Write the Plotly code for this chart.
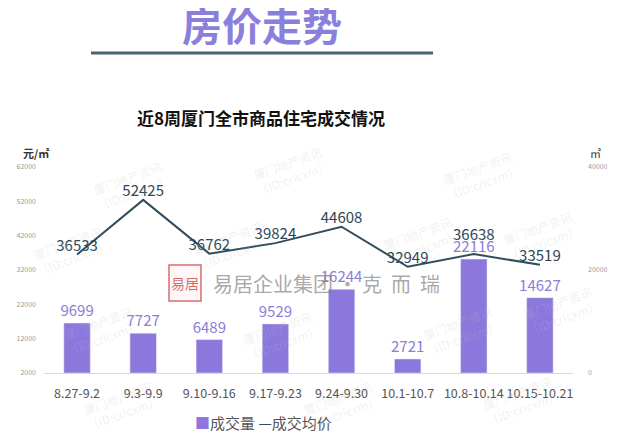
import plotly.graph_objects as go

categories = ["8.27-9.2", "9.3-9.9", "9.10-9.16", "9.17-9.23", "9.24-9.30", "10.1-10.7", "10.8-10.14", "10.15-10.21"]
volume = [9699, 7727, 6489, 9529, 16244, 2721, 22116, 14627]
avg_price = [36533, 52425, 36762, 39824, 44608, 32949, 36638, 33519]
left_ticks = [2000, 12000, 22000, 32000, 42000, 52000, 62000]
right_ticks = [0, 20000, 40000]

FONT = "Noto Sans CJK SC, Noto Sans, sans-serif"
BAR_COLOR = "#8C78DC"
LINE_COLOR = "#2F4D5C"
BAR_TEXT = "#8A7ED6"
LINE_TEXT = "#2D4654"

# page has an 8px body margin; plot area in screen pixels: x 44..573, y 167..373
OFF = 8
W, H = 625, 439
L, T = 44 - OFF, 167 - OFF
R = W - (573 - OFF)
B = H - (373 - OFF)
PW = W - L - R
PH = H - T - B


def px_x(x):
    return (x - OFF - L) / PW


def px_y(y):
    return (H - B - (y - OFF)) / PH


# line labels: the 7th one is raised a bit more (as in the reference) to clear the bar label
line_text = [str(v) for v in avg_price]
line_text[6] = ""

fig = go.Figure()

fig.add_trace(go.Bar(
    x=categories, y=volume, name="成交量", yaxis="y2",
    marker=dict(color=BAR_COLOR), width=0.4,
    text=[str(v) for v in volume], textposition="outside",
    textfont=dict(color=BAR_TEXT, size=15, family=FONT),
    constraintext="none", cliponaxis=False,
))

fig.add_trace(go.Scatter(
    x=categories, y=avg_price, name="成交均价", yaxis="y",
    mode="lines+text", line=dict(color=LINE_COLOR, width=2),
    text=line_text, textposition="top center",
    textfont=dict(color=LINE_TEXT, size=15, family=FONT),
    cliponaxis=False,
))

fig.update_layout(
    width=W, height=H,
    margin=dict(l=L, r=R, t=T, b=B, autoexpand=False),
    paper_bgcolor="white", plot_bgcolor="white",
    font=dict(family=FONT, color="#555"),
    showlegend=False,
    xaxis=dict(showgrid=False, showline=True, linecolor="#d9d9d9", linewidth=1,
               tickfont=dict(size=12.5, color="#555", family=FONT), ticks="", zeroline=False,
               tickangle=0, automargin=False, ticklabelstandoff=9),
    yaxis=dict(range=[2000, 62000], tickvals=left_ticks, ticktext=[str(v) for v in left_ticks],
               showgrid=False, zeroline=False, automargin=False,
               tickfont=dict(size=7, color="#999"), ticklabelstandoff=7),
    yaxis2=dict(range=[0, 40000], tickvals=right_ticks, ticktext=[str(v) for v in right_ticks],
                overlaying="y", side="right", automargin=False,
                showgrid=False, zeroline=False, tickfont=dict(size=7, color="#999"),
                ticklabelstandoff=14),
)

anns = [
    dict(text="<b>房价走势</b>", x=px_x(262), y=px_y(24), font=dict(size=40, color="#8B7FDC", family=FONT)),
    dict(text="<b>近8周厦门全市商品住宅成交情况</b>", x=px_x(261), y=px_y(117), font=dict(size=17, color="#111", family=FONT)),
    dict(text="<b>元/㎡</b>", x=px_x(36), y=px_y(153), font=dict(size=11, color="#333", family=FONT)),
    dict(text="㎡", x=px_x(595), y=px_y(153), font=dict(size=11, color="#333", family=FONT)),
    dict(text="易居企业集团 · 克  而  瑞", x=px_x(326), y=px_y(283), font=dict(size=20, color="rgba(130,130,130,0.7)", family=FONT)),
    dict(text="易居", x=px_x(185), y=px_y(283), font=dict(size=14, color="rgba(200,60,60,0.75)", family=FONT)),
    dict(text=f"<span style='color:{BAR_COLOR}'>■</span>成交量 <span style='color:{LINE_COLOR}'>—</span>成交均价",
         x=px_x(263), y=px_y(422), font=dict(size=15, color="#555", family=FONT)),
]
wm_pos = [(130, 185), (290, 170), (480, 175), (70, 250), (230, 245), (420, 240), (540, 235),
          (100, 330), (280, 335), (460, 330), (560, 310), (120, 405), (340, 405), (520, 400)]
for (wx, wy) in wm_pos:
    anns.append(dict(text="厦门地产资讯<br>（ID:cricxm）", x=px_x(wx), y=px_y(wy), textangle=-20,
                     font=dict(size=12, color="rgba(190,190,190,0.22)", family=FONT)))

anns = [dict(a, xref="paper", yref="paper", showarrow=False, xanchor="center", yanchor="middle") for a in anns]

# raised label for the 10.8-10.14 average price, anchored at its data point
anns.append(dict(text=str(avg_price[6]), x=categories[6], y=avg_price[6], xref="x", yref="y",
                 showarrow=False, xanchor="center", yanchor="middle", yshift=21,
                 font=dict(color=LINE_TEXT, size=15, family=FONT)))

fig.update_layout(annotations=anns)

fig.add_shape(type="line", xref="paper", yref="paper",
              x0=px_x(91), x1=px_x(433), y0=px_y(53), y1=px_y(53),
              line=dict(color="#4A6670", width=3))
fig.add_shape(type="rect", xref="paper", yref="paper",
              x0=px_x(169), x1=px_x(201), y0=px_y(301), y1=px_y(265),
              line=dict(color="rgba(200,60,60,0.75)", width=1.5),
              fillcolor="rgba(255,240,240,0.5)")

fig.write_html("out.html")
